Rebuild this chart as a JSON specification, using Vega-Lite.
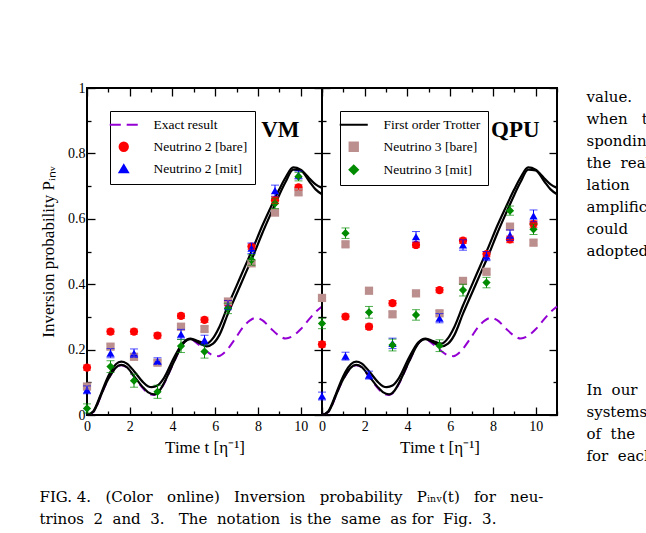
{
  "$schema": "https://vega.github.io/schema/vega-lite/v6.json",
  "background": "white",
  "padding": {"left": 38, "top": 80, "right": 0, "bottom": 4},
  "title": {
    "text": ["FIG. 4.\u00a0\u00a0 (Color\u00a0\u00a0 online)\u00a0\u00a0 Inversion\u00a0\u00a0 probability\u00a0\u00a0 Pᵢₙᵥ(t)\u00a0\u00a0 for\u00a0\u00a0 neu-", "trinos\u00a0 2\u00a0 and\u00a0 3.\u00a0\u00a0 The\u00a0 notation\u00a0 is the\u00a0 same\u00a0 as for\u00a0 Fig.\u00a0 3."],
    "orient": "bottom", "anchor": "start", "frame": "bounds",
    "font": "DejaVu Serif", "fontSize": 15, "fontWeight": "normal", "color": "black",
    "lineHeight": 22, "offset": 22, "dx": 1
  },
  "datasets": {
    "curves": [
      {"curve": "exact", "t": 0, "P": 0}, {"curve": "exact", "t": 0.3, "P": 0.009}, {"curve": "exact", "t": 0.64, "P": 0.057},
      {"curve": "exact", "t": 0.9, "P": 0.097}, {"curve": "exact", "t": 1.1, "P": 0.121}, {"curve": "exact", "t": 1.35, "P": 0.144},
      {"curve": "exact", "t": 1.6, "P": 0.152}, {"curve": "exact", "t": 1.85, "P": 0.146}, {"curve": "exact", "t": 2.2, "P": 0.117},
      {"curve": "exact", "t": 2.6, "P": 0.083}, {"curve": "exact", "t": 2.85, "P": 0.067}, {"curve": "exact", "t": 3.14, "P": 0.061},
      {"curve": "exact", "t": 3.4, "P": 0.073}, {"curve": "exact", "t": 3.6, "P": 0.095}, {"curve": "exact", "t": 4.07, "P": 0.162},
      {"curve": "exact", "t": 4.5, "P": 0.218}, {"curve": "exact", "t": 4.8, "P": 0.233}, {"curve": "exact", "t": 5.1, "P": 0.222},
      {"curve": "exact", "t": 5.5, "P": 0.2}, {"curve": "exact", "t": 5.85, "P": 0.184}, {"curve": "exact", "t": 6.15, "P": 0.18},
      {"curve": "exact", "t": 6.5, "P": 0.195}, {"curve": "exact", "t": 6.9, "P": 0.23}, {"curve": "exact", "t": 7.3, "P": 0.268},
      {"curve": "exact", "t": 7.6, "P": 0.288}, {"curve": "exact", "t": 7.9, "P": 0.297}, {"curve": "exact", "t": 8.2, "P": 0.29},
      {"curve": "exact", "t": 8.6, "P": 0.265}, {"curve": "exact", "t": 9.0, "P": 0.242}, {"curve": "exact", "t": 9.3, "P": 0.234},
      {"curve": "exact", "t": 9.6, "P": 0.24}, {"curve": "exact", "t": 10.0, "P": 0.262}, {"curve": "exact", "t": 10.4, "P": 0.293},
      {"curve": "exact", "t": 10.7, "P": 0.315}, {"curve": "exact", "t": 11.0, "P": 0.332},

      {"curve": "A", "t": 0, "P": 0}, {"curve": "A", "t": 0.3, "P": 0.012}, {"curve": "A", "t": 0.64, "P": 0.062},
      {"curve": "A", "t": 0.9, "P": 0.105}, {"curve": "A", "t": 1.1, "P": 0.132}, {"curve": "A", "t": 1.35, "P": 0.155},
      {"curve": "A", "t": 1.6, "P": 0.163}, {"curve": "A", "t": 1.85, "P": 0.158}, {"curve": "A", "t": 2.2, "P": 0.134},
      {"curve": "A", "t": 2.6, "P": 0.102}, {"curve": "A", "t": 2.85, "P": 0.088}, {"curve": "A", "t": 3.03, "P": 0.085},
      {"curve": "A", "t": 3.3, "P": 0.09}, {"curve": "A", "t": 3.6, "P": 0.113}, {"curve": "A", "t": 4.07, "P": 0.175},
      {"curve": "A", "t": 4.5, "P": 0.222}, {"curve": "A", "t": 4.85, "P": 0.234}, {"curve": "A", "t": 5.2, "P": 0.226},
      {"curve": "A", "t": 5.6, "P": 0.218}, {"curve": "A", "t": 5.9, "P": 0.235}, {"curve": "A", "t": 6.2, "P": 0.27},
      {"curve": "A", "t": 6.6, "P": 0.335}, {"curve": "A", "t": 7.0, "P": 0.395}, {"curve": "A", "t": 7.4, "P": 0.455},
      {"curve": "A", "t": 7.8, "P": 0.515}, {"curve": "A", "t": 8.2, "P": 0.578}, {"curve": "A", "t": 8.6, "P": 0.635},
      {"curve": "A", "t": 9.0, "P": 0.69}, {"curve": "A", "t": 9.3, "P": 0.727}, {"curve": "A", "t": 9.65, "P": 0.757},
      {"curve": "A", "t": 10.0, "P": 0.75}, {"curve": "A", "t": 10.4, "P": 0.724}, {"curve": "A", "t": 10.7, "P": 0.705},
      {"curve": "A", "t": 11.0, "P": 0.694},

      {"curve": "B", "t": 0, "P": 0}, {"curve": "B", "t": 0.3, "P": 0.01}, {"curve": "B", "t": 0.64, "P": 0.058},
      {"curve": "B", "t": 0.9, "P": 0.098}, {"curve": "B", "t": 1.1, "P": 0.122}, {"curve": "B", "t": 1.35, "P": 0.145},
      {"curve": "B", "t": 1.6, "P": 0.153}, {"curve": "B", "t": 1.85, "P": 0.147}, {"curve": "B", "t": 2.2, "P": 0.119},
      {"curve": "B", "t": 2.6, "P": 0.086}, {"curve": "B", "t": 2.85, "P": 0.07}, {"curve": "B", "t": 3.14, "P": 0.063},
      {"curve": "B", "t": 3.4, "P": 0.075}, {"curve": "B", "t": 3.6, "P": 0.097}, {"curve": "B", "t": 4.07, "P": 0.163},
      {"curve": "B", "t": 4.5, "P": 0.218}, {"curve": "B", "t": 4.85, "P": 0.232}, {"curve": "B", "t": 5.2, "P": 0.222},
      {"curve": "B", "t": 5.6, "P": 0.21}, {"curve": "B", "t": 5.9, "P": 0.218}, {"curve": "B", "t": 6.2, "P": 0.245},
      {"curve": "B", "t": 6.6, "P": 0.31}, {"curve": "B", "t": 7.0, "P": 0.37}, {"curve": "B", "t": 7.4, "P": 0.43},
      {"curve": "B", "t": 7.8, "P": 0.49}, {"curve": "B", "t": 8.2, "P": 0.555}, {"curve": "B", "t": 8.6, "P": 0.615},
      {"curve": "B", "t": 9.0, "P": 0.673}, {"curve": "B", "t": 9.3, "P": 0.713}, {"curve": "B", "t": 9.65, "P": 0.75},
      {"curve": "B", "t": 10.0, "P": 0.748}, {"curve": "B", "t": 10.4, "P": 0.715}, {"curve": "B", "t": 10.7, "P": 0.69},
      {"curve": "B", "t": 11.0, "P": 0.675}
    ],
    "points": [
      {"panel": "VM", "series": "Neutrino 2 [bare]", "t": 0, "P": 0.145, "err": 0.008},
      {"panel": "VM", "series": "Neutrino 2 [bare]", "t": 1.1, "P": 0.255, "err": 0.008},
      {"panel": "VM", "series": "Neutrino 2 [bare]", "t": 2.2, "P": 0.255, "err": 0.008},
      {"panel": "VM", "series": "Neutrino 2 [bare]", "t": 3.3, "P": 0.243, "err": 0.008},
      {"panel": "VM", "series": "Neutrino 2 [bare]", "t": 4.4, "P": 0.303, "err": 0.008},
      {"panel": "VM", "series": "Neutrino 2 [bare]", "t": 5.5, "P": 0.291, "err": 0.008},
      {"panel": "VM", "series": "Neutrino 2 [bare]", "t": 6.6, "P": 0.342, "err": 0.008},
      {"panel": "VM", "series": "Neutrino 2 [bare]", "t": 7.7, "P": 0.515, "err": 0.008},
      {"panel": "VM", "series": "Neutrino 2 [bare]", "t": 8.8, "P": 0.657, "err": 0.01},
      {"panel": "VM", "series": "Neutrino 2 [bare]", "t": 9.9, "P": 0.696, "err": 0.008},
      {"panel": "VM", "series": "Neutrino 3 [bare]", "t": 0, "P": 0.087, "err": 0.008},
      {"panel": "VM", "series": "Neutrino 3 [bare]", "t": 1.1, "P": 0.209, "err": 0.008},
      {"panel": "VM", "series": "Neutrino 3 [bare]", "t": 2.2, "P": 0.178, "err": 0.008},
      {"panel": "VM", "series": "Neutrino 3 [bare]", "t": 3.3, "P": 0.16, "err": 0.008},
      {"panel": "VM", "series": "Neutrino 3 [bare]", "t": 4.4, "P": 0.27, "err": 0.008},
      {"panel": "VM", "series": "Neutrino 3 [bare]", "t": 5.5, "P": 0.263, "err": 0.008},
      {"panel": "VM", "series": "Neutrino 3 [bare]", "t": 6.6, "P": 0.347, "err": 0.008},
      {"panel": "VM", "series": "Neutrino 3 [bare]", "t": 7.7, "P": 0.464, "err": 0.008},
      {"panel": "VM", "series": "Neutrino 3 [bare]", "t": 8.8, "P": 0.619, "err": 0.008},
      {"panel": "VM", "series": "Neutrino 3 [bare]", "t": 9.9, "P": 0.681, "err": 0.008},
      {"panel": "VM", "series": "Neutrino 2 [mit]", "t": 0, "P": 0.077, "err": 0.012},
      {"panel": "VM", "series": "Neutrino 2 [mit]", "t": 1.1, "P": 0.189, "err": 0.014},
      {"panel": "VM", "series": "Neutrino 2 [mit]", "t": 2.2, "P": 0.189, "err": 0.013},
      {"panel": "VM", "series": "Neutrino 2 [mit]", "t": 3.3, "P": 0.165, "err": 0.01},
      {"panel": "VM", "series": "Neutrino 2 [mit]", "t": 4.4, "P": 0.247, "err": 0.015},
      {"panel": "VM", "series": "Neutrino 2 [mit]", "t": 5.5, "P": 0.229, "err": 0.015},
      {"panel": "VM", "series": "Neutrino 2 [mit]", "t": 6.6, "P": 0.336, "err": 0.014},
      {"panel": "VM", "series": "Neutrino 2 [mit]", "t": 7.7, "P": 0.51, "err": 0.016},
      {"panel": "VM", "series": "Neutrino 2 [mit]", "t": 8.8, "P": 0.686, "err": 0.017},
      {"panel": "VM", "series": "Neutrino 2 [mit]", "t": 9.9, "P": 0.734, "err": 0.012},
      {"panel": "VM", "series": "Neutrino 3 [mit]", "t": 0, "P": 0.02, "err": 0.014},
      {"panel": "VM", "series": "Neutrino 3 [mit]", "t": 1.1, "P": 0.148, "err": 0.018},
      {"panel": "VM", "series": "Neutrino 3 [mit]", "t": 2.2, "P": 0.105, "err": 0.02},
      {"panel": "VM", "series": "Neutrino 3 [mit]", "t": 3.3, "P": 0.071, "err": 0.02},
      {"panel": "VM", "series": "Neutrino 3 [mit]", "t": 4.4, "P": 0.211, "err": 0.02},
      {"panel": "VM", "series": "Neutrino 3 [mit]", "t": 5.5, "P": 0.194, "err": 0.02},
      {"panel": "VM", "series": "Neutrino 3 [mit]", "t": 6.6, "P": 0.326, "err": 0.016},
      {"panel": "VM", "series": "Neutrino 3 [mit]", "t": 7.7, "P": 0.474, "err": 0.016},
      {"panel": "VM", "series": "Neutrino 3 [mit]", "t": 8.8, "P": 0.647, "err": 0.016},
      {"panel": "VM", "series": "Neutrino 3 [mit]", "t": 9.9, "P": 0.729, "err": 0.013},

      {"panel": "QPU", "series": "Neutrino 2 [bare]", "t": 0, "P": 0.216, "err": 0.008},
      {"panel": "QPU", "series": "Neutrino 2 [bare]", "t": 1.1, "P": 0.301, "err": 0.008},
      {"panel": "QPU", "series": "Neutrino 2 [bare]", "t": 2.2, "P": 0.27, "err": 0.008},
      {"panel": "QPU", "series": "Neutrino 2 [bare]", "t": 3.3, "P": 0.342, "err": 0.008},
      {"panel": "QPU", "series": "Neutrino 2 [bare]", "t": 4.4, "P": 0.52, "err": 0.008},
      {"panel": "QPU", "series": "Neutrino 2 [bare]", "t": 5.5, "P": 0.382, "err": 0.008},
      {"panel": "QPU", "series": "Neutrino 2 [bare]", "t": 6.6, "P": 0.533, "err": 0.008},
      {"panel": "QPU", "series": "Neutrino 2 [bare]", "t": 7.7, "P": 0.492, "err": 0.008},
      {"panel": "QPU", "series": "Neutrino 2 [bare]", "t": 8.8, "P": 0.537, "err": 0.01},
      {"panel": "QPU", "series": "Neutrino 2 [bare]", "t": 9.9, "P": 0.584, "err": 0.01},
      {"panel": "QPU", "series": "Neutrino 3 [bare]", "t": 0, "P": 0.358, "err": 0.008},
      {"panel": "QPU", "series": "Neutrino 3 [bare]", "t": 1.1, "P": 0.522, "err": 0.008},
      {"panel": "QPU", "series": "Neutrino 3 [bare]", "t": 2.2, "P": 0.38, "err": 0.008},
      {"panel": "QPU", "series": "Neutrino 3 [bare]", "t": 3.3, "P": 0.308, "err": 0.008},
      {"panel": "QPU", "series": "Neutrino 3 [bare]", "t": 4.4, "P": 0.372, "err": 0.008},
      {"panel": "QPU", "series": "Neutrino 3 [bare]", "t": 5.5, "P": 0.311, "err": 0.008},
      {"panel": "QPU", "series": "Neutrino 3 [bare]", "t": 6.6, "P": 0.41, "err": 0.008},
      {"panel": "QPU", "series": "Neutrino 3 [bare]", "t": 7.7, "P": 0.438, "err": 0.008},
      {"panel": "QPU", "series": "Neutrino 3 [bare]", "t": 8.8, "P": 0.576, "err": 0.008},
      {"panel": "QPU", "series": "Neutrino 3 [bare]", "t": 9.9, "P": 0.527, "err": 0.008},
      {"panel": "QPU", "series": "Neutrino 2 [mit]", "t": 0, "P": 0.058, "err": 0.012},
      {"panel": "QPU", "series": "Neutrino 2 [mit]", "t": 1.1, "P": 0.18, "err": 0.012},
      {"panel": "QPU", "series": "Neutrino 2 [mit]", "t": 2.2, "P": 0.122, "err": 0.012},
      {"panel": "QPU", "series": "Neutrino 2 [mit]", "t": 3.3, "P": 0.219, "err": 0.016},
      {"panel": "QPU", "series": "Neutrino 2 [mit]", "t": 4.4, "P": 0.545, "err": 0.016},
      {"panel": "QPU", "series": "Neutrino 2 [mit]", "t": 5.5, "P": 0.296, "err": 0.014},
      {"panel": "QPU", "series": "Neutrino 2 [mit]", "t": 6.6, "P": 0.52, "err": 0.016},
      {"panel": "QPU", "series": "Neutrino 2 [mit]", "t": 7.7, "P": 0.486, "err": 0.014},
      {"panel": "QPU", "series": "Neutrino 2 [mit]", "t": 8.8, "P": 0.55, "err": 0.016},
      {"panel": "QPU", "series": "Neutrino 2 [mit]", "t": 9.9, "P": 0.609, "err": 0.018},
      {"panel": "QPU", "series": "Neutrino 3 [mit]", "t": 0, "P": 0.28, "err": 0.016},
      {"panel": "QPU", "series": "Neutrino 3 [mit]", "t": 1.1, "P": 0.556, "err": 0.016},
      {"panel": "QPU", "series": "Neutrino 3 [mit]", "t": 2.2, "P": 0.314, "err": 0.018},
      {"panel": "QPU", "series": "Neutrino 3 [mit]", "t": 3.3, "P": 0.214, "err": 0.018},
      {"panel": "QPU", "series": "Neutrino 3 [mit]", "t": 4.4, "P": 0.306, "err": 0.016},
      {"panel": "QPU", "series": "Neutrino 3 [mit]", "t": 5.5, "P": 0.212, "err": 0.018},
      {"panel": "QPU", "series": "Neutrino 3 [mit]", "t": 6.6, "P": 0.382, "err": 0.018},
      {"panel": "QPU", "series": "Neutrino 3 [mit]", "t": 7.7, "P": 0.405, "err": 0.016},
      {"panel": "QPU", "series": "Neutrino 3 [mit]", "t": 8.8, "P": 0.625, "err": 0.014},
      {"panel": "QPU", "series": "Neutrino 3 [mit]", "t": 9.9, "P": 0.568, "err": 0.016}
    ],
    "body": [
      {"line": 0, "text": "value."},
      {"line": 1, "text": "when\u00a0\u00a0 the"},
      {"line": 2, "text": "sponding"},
      {"line": 3, "text": "the\u00a0 real"},
      {"line": 4, "text": "lation"},
      {"line": 5, "text": "amplification"},
      {"line": 6, "text": "could\u00a0\u00a0\u00a0 provide"},
      {"line": 7, "text": "adopted"},
      {"line": 13.3, "text": "\u00a0\u00a0\u00a0\u00a0In\u00a0 our"},
      {"line": 14.3, "text": "systems"},
      {"line": 15.3, "text": "of\u00a0 the"},
      {"line": 16.3, "text": "for\u00a0 each"}
    ]
  },
  "hconcat": [
    {
      "width": 235,
      "height": 327,
      "view": {"stroke": "black", "strokeWidth": 2},
      "layer": [
        {
          "data": {"name": "curves"},
          "transform": [{"filter": "datum.curve === 'exact'"}],
          "mark": {"type": "line", "color": "#9400d3", "strokeWidth": 2, "strokeDash": [9, 6], "interpolate": "monotone"},
          "encoding": {
            "x": {"field": "t", "type": "quantitative", "scale": {"domain": [0, 11], "nice": false, "zero": false},
              "axis": {"orient": "bottom", "values": [0, 1, 2, 3, 4, 5, 6, 7, 8, 9, 10, 11],
                "labelExpr": "datum.value % 2 === 0 ? datum.label : ''",
                "tickSize": {"condition": {"test": "datum.value % 2 === 0", "value": -8}, "value": -4},
                "labelPadding": 12, "title": "Time t [η⁻¹]", "titlePadding": 2}},
            "y": {"field": "P", "type": "quantitative", "scale": {"domain": [0, 1], "nice": false},
              "axis": {"orient": "left", "values": [0, 0.1, 0.2, 0.3, 0.4, 0.5, 0.6, 0.7, 0.8, 0.9, 1],
                "format": "~g",
                "labelExpr": "round(datum.value * 10) % 2 === 0 ? datum.label : ''",
                "tickSize": {"condition": {"test": "round(datum.value * 10) % 2 === 0", "value": -8}, "value": -4},
                "labelPadding": 10, "title": "Inversion probability Pᵢₙᵥ", "titlePadding": 10}}
          }
        },
        {
          "data": {"name": "curves"},
          "transform": [{"filter": "datum.curve !== 'exact'"}],
          "mark": {"type": "line", "color": "black", "strokeWidth": 2.2, "interpolate": "monotone"},
          "encoding": {
            "x": {"field": "t", "type": "quantitative", "axis": null},
            "y": {"field": "P", "type": "quantitative", "axis": null},
            "detail": {"field": "curve"}
          }
        },
        {
          "data": {"name": "points"},
          "transform": [{"filter": "datum.panel === 'VM'"}],
          "mark": {"type": "point", "filled": true, "size": 68, "opacity": 1},
          "encoding": {
            "x": {"field": "t", "type": "quantitative",
              "axis": {"orient": "top", "values": [0, 1, 2, 3, 4, 5, 6, 7, 8, 9, 10, 11], "labels": false, "title": null,
                "tickSize": {"condition": {"test": "datum.value % 2 === 0", "value": -8}, "value": -4}}},
            "y": {"field": "P", "type": "quantitative",
              "axis": {"orient": "right", "values": [0, 0.1, 0.2, 0.3, 0.4, 0.5, 0.6, 0.7, 0.8, 0.9, 1], "labels": false, "title": null,
                "tickSize": {"condition": {"test": "round(datum.value * 10) % 2 === 0", "value": -8}, "value": -4}}},
            "color": {"field": "series", "type": "nominal",
              "scale": {"domain": ["Exact result", "First order Trotter", "Neutrino 2 [bare]", "Neutrino 2 [mit]", "Neutrino 3 [bare]", "Neutrino 3 [mit]"],
                "range": ["#9400d3", "#000000", "#ff0000", "#0000ff", "#bc8f8f", "#008b00"]},
              "legend": {"orient": "none", "legendX": 23, "legendY": 23, "title": null,
                "values": ["Exact result", "Neutrino 2 [bare]", "Neutrino 2 [mit]"],
                "strokeColor": "black", "fillColor": "white", "padding": 7, "rowPadding": 6,
                "labelFont": "Liberation Serif", "labelFontSize": 13.5, "labelColor": "black", "labelOffset": 23, "labelLimit": 300,
                "symbolSize": 70, "symbolStrokeWidth": 2,
                "encode": {"symbols": {
                  "x": {"value": 13},
                  "stroke": {"condition": [
                    {"test": "datum.value === 'Exact result'", "value": "#9400d3"},
                    {"test": "datum.value === 'First order Trotter'", "value": "#000000"}], "value": "transparent"},
                  "strokeWidth": {"condition": {"test": "datum.value === 'Exact result' || datum.value === 'First order Trotter'", "value": 2.4}, "value": 0},
                  "strokeDash": {"condition": {"test": "datum.value === 'Exact result'", "value": [9, 5]}, "value": [1, 0]}
                }}}},
            "shape": {"field": "series", "type": "nominal",
              "scale": {"domain": ["Exact result", "First order Trotter", "Neutrino 2 [bare]", "Neutrino 2 [mit]", "Neutrino 3 [bare]", "Neutrino 3 [mit]"],
                "range": ["M-3.35,0H-0.7M0.7,0H3.35", "M-3.35,0H3.35", "circle", "triangle-up", "square", "diamond"]},
              "legend": {"orient": "none", "legendX": 23, "legendY": 23, "title": null,
                "values": ["Exact result", "Neutrino 2 [bare]", "Neutrino 2 [mit]"]}}
          }
        },
        {
          "data": {"name": "points"},
          "transform": [{"filter": "datum.panel === 'VM'"}],
          "mark": {"type": "errorbar", "ticks": true, "size": 8, "thickness": 1},
          "encoding": {
            "x": {"field": "t", "type": "quantitative", "axis": null},
            "y": {"field": "P", "type": "quantitative", "axis": null},
            "yError": {"field": "err"},
            "color": {"field": "series", "type": "nominal",
              "scale": {"domain": ["Exact result", "First order Trotter", "Neutrino 2 [bare]", "Neutrino 2 [mit]", "Neutrino 3 [bare]", "Neutrino 3 [mit]"],
                "range": ["#9400d3", "#000000", "#ff0000", "#0000ff", "#bc8f8f", "#008b00"]}}
          }
        },
        {
          "data": {"values": [{"name": "VM"}]},
          "mark": {"type": "text", "font": "Liberation Serif", "fontSize": 23, "fontWeight": "bold", "align": "center", "baseline": "alphabetic", "color": "black"},
          "encoding": {
            "x": {"datum": 9.05, "type": "quantitative", "axis": null},
            "y": {"datum": 0.85, "type": "quantitative", "axis": null},
            "text": {"field": "name"}
          }
        }
      ],
      "resolve": {"axis": {"x": "independent", "y": "independent"}}
    },
    {
      "width": 235,
      "height": 327,
      "view": {"stroke": "black", "strokeWidth": 2},
      "layer": [
        {
          "data": {"name": "curves"},
          "transform": [{"filter": "datum.curve === 'exact'"}],
          "mark": {"type": "line", "color": "#9400d3", "strokeWidth": 2, "strokeDash": [9, 6], "interpolate": "monotone"},
          "encoding": {
            "x": {"field": "t", "type": "quantitative", "scale": {"domain": [0, 11], "nice": false, "zero": false},
              "axis": {"orient": "bottom", "values": [0, 1, 2, 3, 4, 5, 6, 7, 8, 9, 10, 11],
                "labelExpr": "datum.value % 2 === 0 ? datum.label : ''",
                "tickSize": {"condition": {"test": "datum.value % 2 === 0", "value": -8}, "value": -4},
                "labelPadding": 12, "title": "Time t [η⁻¹]", "titlePadding": 2}},
            "y": {"field": "P", "type": "quantitative", "scale": {"domain": [0, 1], "nice": false},
              "axis": {"orient": "left", "values": [0, 0.1, 0.2, 0.3, 0.4, 0.5, 0.6, 0.7, 0.8, 0.9, 1],
                "labels": false, "title": null,
                "tickSize": {"condition": {"test": "round(datum.value * 10) % 2 === 0", "value": -8}, "value": -4}}}
          }
        },
        {
          "data": {"name": "curves"},
          "transform": [{"filter": "datum.curve !== 'exact'"}],
          "mark": {"type": "line", "color": "black", "strokeWidth": 2.2, "interpolate": "monotone"},
          "encoding": {
            "x": {"field": "t", "type": "quantitative", "axis": null},
            "y": {"field": "P", "type": "quantitative", "axis": null},
            "detail": {"field": "curve"}
          }
        },
        {
          "data": {"name": "points"},
          "transform": [{"filter": "datum.panel === 'QPU'"}],
          "mark": {"type": "point", "filled": true, "size": 68, "opacity": 1},
          "encoding": {
            "x": {"field": "t", "type": "quantitative",
              "axis": {"orient": "top", "values": [0, 1, 2, 3, 4, 5, 6, 7, 8, 9, 10, 11], "labels": false, "title": null,
                "tickSize": {"condition": {"test": "datum.value % 2 === 0", "value": -8}, "value": -4}}},
            "y": {"field": "P", "type": "quantitative",
              "axis": {"orient": "right", "values": [0, 0.1, 0.2, 0.3, 0.4, 0.5, 0.6, 0.7, 0.8, 0.9, 1], "labels": false, "title": null,
                "tickSize": {"condition": {"test": "round(datum.value * 10) % 2 === 0", "value": -8}, "value": -4}}},
            "color": {"field": "series", "type": "nominal",
              "scale": {"domain": ["Exact result", "First order Trotter", "Neutrino 2 [bare]", "Neutrino 2 [mit]", "Neutrino 3 [bare]", "Neutrino 3 [mit]"],
                "range": ["#9400d3", "#000000", "#ff0000", "#0000ff", "#bc8f8f", "#008b00"]},
              "legend": {"orient": "none", "legendX": 18, "legendY": 23, "title": null,
                "values": ["First order Trotter", "Neutrino 3 [bare]", "Neutrino 3 [mit]"],
                "strokeColor": "black", "fillColor": "white", "padding": 7, "rowPadding": 6,
                "labelFont": "Liberation Serif", "labelFontSize": 13.5, "labelColor": "black", "labelOffset": 23, "labelLimit": 300,
                "symbolSize": 70, "symbolStrokeWidth": 2,
                "encode": {"symbols": {
                  "x": {"value": 13},
                  "stroke": {"condition": [
                    {"test": "datum.value === 'Exact result'", "value": "#9400d3"},
                    {"test": "datum.value === 'First order Trotter'", "value": "#000000"}], "value": "transparent"},
                  "strokeWidth": {"condition": {"test": "datum.value === 'Exact result' || datum.value === 'First order Trotter'", "value": 2.4}, "value": 0},
                  "strokeDash": {"condition": {"test": "datum.value === 'Exact result'", "value": [9, 5]}, "value": [1, 0]}
                }}}},
            "shape": {"field": "series", "type": "nominal",
              "scale": {"domain": ["Exact result", "First order Trotter", "Neutrino 2 [bare]", "Neutrino 2 [mit]", "Neutrino 3 [bare]", "Neutrino 3 [mit]"],
                "range": ["M-3.35,0H-0.7M0.7,0H3.35", "M-3.35,0H3.35", "circle", "triangle-up", "square", "diamond"]},
              "legend": {"orient": "none", "legendX": 18, "legendY": 23, "title": null,
                "values": ["First order Trotter", "Neutrino 3 [bare]", "Neutrino 3 [mit]"]}}
          }
        },
        {
          "data": {"name": "points"},
          "transform": [{"filter": "datum.panel === 'QPU'"}],
          "mark": {"type": "errorbar", "ticks": true, "size": 8, "thickness": 1},
          "encoding": {
            "x": {"field": "t", "type": "quantitative", "axis": null},
            "y": {"field": "P", "type": "quantitative", "axis": null},
            "yError": {"field": "err"},
            "color": {"field": "series", "type": "nominal",
              "scale": {"domain": ["Exact result", "First order Trotter", "Neutrino 2 [bare]", "Neutrino 2 [mit]", "Neutrino 3 [bare]", "Neutrino 3 [mit]"],
                "range": ["#9400d3", "#000000", "#ff0000", "#0000ff", "#bc8f8f", "#008b00"]}}
          }
        },
        {
          "data": {"values": [{"name": "QPU"}]},
          "mark": {"type": "text", "font": "Liberation Serif", "fontSize": 23, "fontWeight": "bold", "align": "center", "baseline": "alphabetic", "color": "black"},
          "encoding": {
            "x": {"datum": 9.05, "type": "quantitative", "axis": null},
            "y": {"datum": 0.85, "type": "quantitative", "axis": null},
            "text": {"field": "name"}
          }
        }
      ],
      "resolve": {"axis": {"x": "independent", "y": "independent"}}
    },
    {
      "width": 89,
      "height": 380,
      "data": {"name": "body"},
      "mark": {"type": "text", "align": "left", "baseline": "middle", "font": "DejaVu Serif", "fontSize": 15, "color": "black", "clip": true, "dx": -15},
      "encoding": {
        "y": {"field": "line", "type": "quantitative", "scale": {"domain": [0, 16.3], "range": [9, 368], "nice": false, "zero": false}, "axis": null},
        "text": {"field": "text"}
      }
    }
  ],
  "spacing": 0,
  "bounds": "flush",
  "resolve": {
    "scale": {"color": "independent", "shape": "independent"},
    "legend": {"color": "independent", "shape": "independent"}
  },
  "config": {
    "view": {"stroke": null},
    "axis": {
      "domain": false, "grid": false,
      "tickColor": "black", "tickWidth": 1.3,
      "labelFont": "Liberation Serif", "labelFontSize": 14, "labelColor": "black",
      "labelOverlap": false, "labelFlush": false,
      "titleFont": "Liberation Serif", "titleFontSize": 17, "titleFontWeight": "normal", "titleColor": "black"
    }
  }
}
